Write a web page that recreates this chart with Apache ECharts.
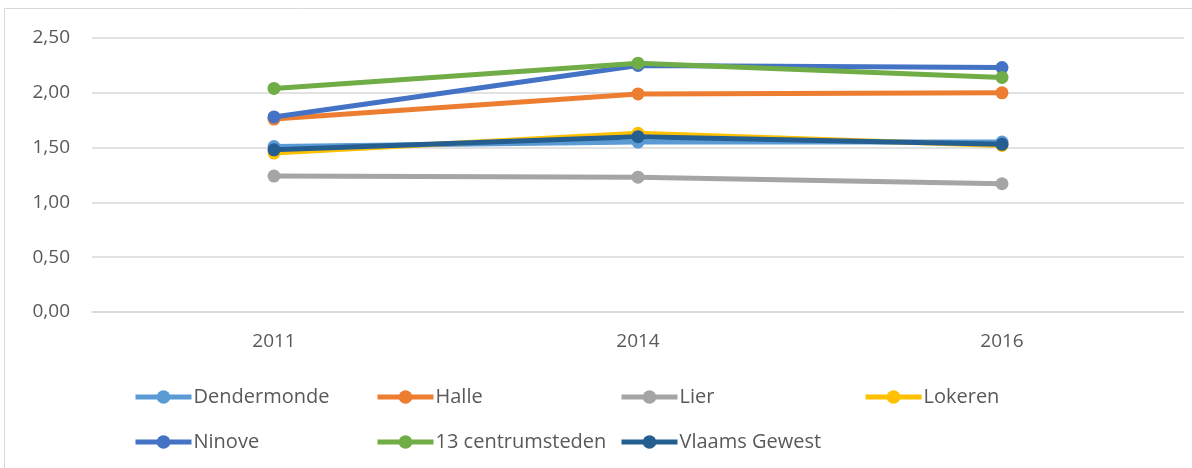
<!DOCTYPE html>
<html><head><meta charset="utf-8">
<script src="https://cdn.jsdelivr.net/npm/echarts@6/dist/echarts.min.js"></script>
<style>html,body{margin:0;padding:0;background:#fff}#c{width:1192px;height:468px}</style>
</head><body><div id="c"></div>
<script>
const years = ['2011','2014','2016'];
const seriesNames = ['Dendermonde','Halle','Lier','Lokeren','Ninove','13 centrumsteden','Vlaams Gewest'];
const dendermonde = [1.51, 1.55, 1.55];
const halle = [1.76, 1.99, 2.00];
const lier = [1.24, 1.23, 1.17];
const lokeren = [1.45, 1.63, 1.52];
const ninove = [1.78, 2.25, 2.23];
const centrumsteden = [2.04, 2.27, 2.14];
const vlaamsGewest = [1.48, 1.60, 1.53];
const yTicks = ['0,00','0,50','1,00','1,50','2,00','2,50'];

const values = [dendermonde, halle, lier, lokeren, ninove, centrumsteden, vlaamsGewest];
const colors = ['#5B9BD5','#ED7D31','#A5A5A5','#FFC000','#4472C4','#70AD47','#255E91'];
const font = '"Open Sans", sans-serif';
const txt = '#595959';

const legendPos = [[133,387],[375,387],[619,387],[863,387],[133,432],[375,432],[619,432]];
const legends = seriesNames.map((n,i)=>({
  data:[n], left:legendPos[i][0], top:legendPos[i][1], padding:0,
  itemWidth:56, itemHeight:17, itemGap:0,
  lineStyle:{width:5},
  textStyle:{color:txt, fontFamily:font, fontSize:20, padding:[0,0,0,-3]}
}));

const chart = echarts.init(document.getElementById('c'), null, {renderer:'canvas'});
chart.setOption({
  animation:false,
  backgroundColor:'#fff',
  graphic:[{type:'rect', shape:{x:4.5,y:8.5,width:1400,height:700}, style:{fill:'none', stroke:'#D9D9D9', lineWidth:1}, silent:true}],
  grid:{left:92, right:8, top:38, bottom:156},
  legend: legends,
  xAxis:{type:'category', data:years, boundaryGap:true,
    axisLine:{lineStyle:{color:'#D9D9D9', width:1.5}}, axisTick:{show:false},
    axisLabel:{color:txt, fontFamily:font, fontSize:19, margin:20}},
  yAxis:{type:'value', min:0, max:2.5, interval:0.5,
    axisLine:{show:false}, axisTick:{show:false},
    splitLine:{lineStyle:{color:'#D9D9D9', width:1.5}},
    axisLabel:{color:txt, fontFamily:font, fontSize:19, margin:22,
      formatter:(v)=>yTicks[Math.round(v/0.5)]}},
  series: seriesNames.map((n,i)=>({
    name:n, type:'line', data:values[i],
    symbol:'circle', symbolSize:13,
    lineStyle:{color:colors[i], width:5},
    itemStyle:{color:colors[i]},
    z:2+i
  }))
});
</script></body></html>
